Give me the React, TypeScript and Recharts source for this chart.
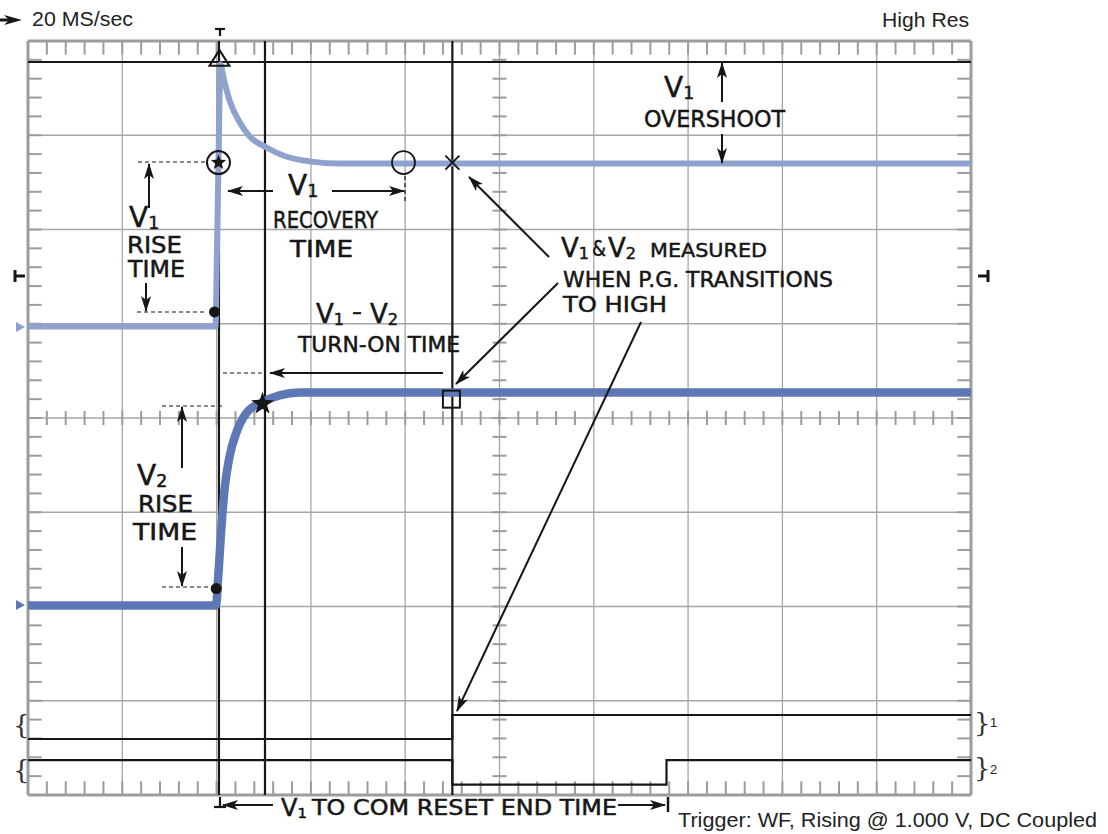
import React from 'react';
import {
  ComposedChart,
  Line,
  Scatter,
  XAxis,
  YAxis,
  CartesianGrid,
  ReferenceLine
} from 'recharts';

// screen is 10 x 8 divisions, values below are in divisions
const MAJOR_X = [0, 1, 2, 3, 4, 5, 6, 7, 8, 9, 10];
const MAJOR_Y = [0, 1, 2, 3, 4, 5, 6, 7, 8];
const MINOR_X = Array.from({ length: 49 }, (_, i) => +((i + 1) * 0.2).toFixed(1));
const MINOR_Y = Array.from({ length: 39 }, (_, i) => +((i + 1) * 0.2).toFixed(1));

// V1 (light trace)
const V1_T = [0, 1.988, 2.004, 2.02, 2.041, 2.073, 2.137, 2.243, 2.349, 2.529, 2.72, 3.006, 3.303, 10];
const V1_V = [4.97, 4.97, 5.78, 6.71, 7.75, 7.61, 7.37, 7.14, 6.99, 6.87, 6.78, 6.72, 6.7, 6.7];

// V2 (dark trace)
const V2_T = [0, 1.99, 2.003, 2.013, 2.049, 2.084, 2.137, 2.208, 2.314, 2.49, 2.667, 2.879, 10];
const V2_V = [2.01, 2.01, 2.08, 2.25, 2.81, 3.24, 3.59, 3.84, 4.05, 4.17, 4.24, 4.27, 4.27];

// digital channels 1 and 2
const CH1_T = [0, 4.5, 10];
const CH1_V = [0.594, 0.849, 0.849];
const CH2_T = [0, 4.5, 6.771, 10];
const CH2_V = [0.371, 0.111, 0.371, 0.371];

// cursors
const CURSOR_X = [2.025, 2.513, 4.5];
const CURSOR_Y = [7.777];

// measurement markers
const MARK_T = [2.03, 2.02, 1.978, 3.982, 4.5, 4.49, 2.487, 1.996];
const MARK_V = [7.8, 6.71, 5.125, 6.71, 6.71, 4.2, 4.15, 2.19];
const MARK_KIND = ['triangle', 'circleStar', 'dot', 'circle', 'cross', 'square', 'star', 'dot'];

const toPoints = (t: number[], v: number[]) => t.map((x, i) => ({ x, y: v[i] }));
const v1Data = toPoints(V1_T, V1_V);
const v2Data = toPoints(V2_T, V2_V);
const ch1Data = toPoints(CH1_T, CH1_V);
const ch2Data = toPoints(CH2_T, CH2_V);
const markData = MARK_T.map((x, i) => ({ x, y: MARK_V[i], kind: MARK_KIND[i] }));

const W = 1108;
const H = 834;
const GRAY = '#9c9c9c';
const INK = '#161616';
const TICK = 0.145;
const MID_TICK = 0.074;
const SANS = '"Liberation Sans", Arial, sans-serif';
const HAND = '"DejaVu Sans", sans-serif';
const SERIF = '"DejaVu Serif", serif';

const starPath = (cx: number, cy: number, ro: number, ri: number) => {
  const pts: string[] = [];
  for (let i = 0; i < 10; i++) {
    const r = i % 2 === 0 ? ro : ri;
    const a = -Math.PI / 2 + (i * Math.PI) / 5;
    pts.push(`${cx + r * Math.cos(a)},${cy + r * Math.sin(a)}`);
  }
  return pts.join(' ');
};

const Marker = (props: any) => {
  const { cx, cy, payload } = props;
  switch (payload.kind) {
    case 'triangle':
      return (
        <polygon
          points={`${cx},${cy - 10} ${cx - 10},${cy + 6} ${cx + 10},${cy + 6}`}
          fill="none"
          stroke={INK}
          strokeWidth={2}
        />
      );
    case 'circleStar':
      return (
        <g>
          <circle cx={cx} cy={cy} r={11.5} fill="none" stroke={INK} strokeWidth={2} />
          <polygon points={starPath(cx, cy, 8, 3.4)} fill={INK} />
        </g>
      );
    case 'dot':
      return <circle cx={cx} cy={cy} r={5.5} fill={INK} />;
    case 'circle':
      return <circle cx={cx} cy={cy} r={11.5} fill="none" stroke={INK} strokeWidth={1.8} />;
    case 'cross':
      return (
        <g stroke={INK} strokeWidth={1.8}>
          <line x1={cx - 7} y1={cy - 7} x2={cx + 7} y2={cy + 7} />
          <line x1={cx - 7} y1={cy + 7} x2={cx + 7} y2={cy - 7} />
        </g>
      );
    case 'square':
      return <rect x={cx - 8.5} y={cy - 8.5} width={17} height={17} fill="none" stroke={INK} strokeWidth={2} />;
    case 'star':
      return <polygon points={starPath(cx, cy, 12, 4.8)} fill={INK} />;
    default:
      return <g />;
  }
};

// marker-pen style lettering
const Hand = ({ x, y, w, size = 23, children }: any) => (
  <text
    x={x}
    y={y}
    fontFamily={HAND}
    fontSize={size}
    fill={INK}
    stroke={INK}
    strokeWidth={0.5}
    textLength={w}
    lengthAdjust="spacingAndGlyphs"
  >
    {children}
  </text>
);

const VSub = ({ x, y, n, size = 28 }: any) => (
  <text x={x} y={y} fontFamily={HAND} fontSize={size} fill={INK} stroke={INK} strokeWidth={0.5}>
    <tspan>V</tspan>
    <tspan fontSize={size * 0.62} dy={2}>{n}</tspan>
  </text>
);

const Arrow = ({ x1, y1, x2, y2 }: any) => (
  <line x1={x1} y1={y1} x2={x2} y2={y2} stroke={INK} strokeWidth={2} markerEnd="url(#head)" />
);

const Dash = ({ x1, y1, x2, y2 }: any) => (
  <line x1={x1} y1={y1} x2={x2} y2={y2} stroke={INK} strokeWidth={1.2} strokeDasharray="4 3" />
);

const Notes = () => (
  <svg width={W} height={H} style={{ position: 'absolute', left: 0, top: 0, pointerEvents: 'none' }}>
    <defs>
      <marker id="head" viewBox="0 0 16 10" refX="15" refY="5" markerWidth="16" markerHeight="10" markerUnits="userSpaceOnUse" orient="auto">
        <path d="M0,0 L16,5 L0,10 L4,5 z" fill={INK} />
      </marker>
    </defs>

    {/* header / footer */}
    <line x1={0} y1={20} x2={10} y2={20} stroke={INK} strokeWidth={3} />
    <polygon points="4,15 22,20 4,25 9,20" fill={INK} />
    <text x={32} y={26} fontFamily={SANS} fontSize={21} fill="#222" textLength={101} lengthAdjust="spacingAndGlyphs">20 MS/sec</text>
    <text x={882} y={27} fontFamily={SANS} fontSize={21} fill="#222" textLength={87} lengthAdjust="spacingAndGlyphs">High Res</text>
    <text x={678} y={827} fontFamily={SANS} fontSize={20} fill="#222" textLength={419} lengthAdjust="spacingAndGlyphs">
      Trigger: WF, Rising @ 1.000 V, DC Coupled
    </text>

    {/* trigger position and level */}
    <g stroke={INK} strokeWidth={2.2}>
      <line x1={215} y1={29} x2={225} y2={29} />
      <line x1={220} y1={29} x2={220} y2={36} />
      <line x1={214} y1={807} x2={226} y2={807} />
      <line x1={220} y1={797} x2={220} y2={807} />
      <line x1={15} y1={270} x2={15} y2={282} strokeWidth={3} />
      <line x1={15} y1={276} x2={25} y2={276} strokeWidth={3} />
      <line x1={988} y1={270} x2={988} y2={282} strokeWidth={3} />
      <line x1={978} y1={276} x2={988} y2={276} strokeWidth={3} />
    </g>
    <polygon points="16,322 25,327 16,332" fill="#8da2cd" />
    <polygon points="16,600 25,605 16,610" fill="#5e78b6" />

    {/* channel braces */}
    <text x={13} y={734} fontFamily={SERIF} fontSize={26} fill="#333">{'{'}</text>
    <text x={13} y={779} fontFamily={SERIF} fontSize={26} fill="#333">{'{'}</text>
    <text x={974} y={732} fontFamily={SERIF} fontSize={26} fill="#333">{'}'}</text>
    <text x={974} y={777} fontFamily={SERIF} fontSize={26} fill="#333">{'}'}</text>
    <text x={990} y={727} fontFamily={SANS} fontSize={13} fill="#222">1</text>
    <text x={990} y={774} fontFamily={SANS} fontSize={13} fill="#222">2</text>

    {/* V1 overshoot */}
    <VSub x={664} y={97} n="1" />
    <Arrow x1={722} y1={102} x2={722} y2={63} />
    <Hand x={644} y={127} w={141}>OVERSHOOT</Hand>
    <Arrow x1={722} y1={134} x2={722} y2={163} />

    {/* V1 recovery */}
    <Arrow x1={273} y1={191} x2={228} y2={191} />
    <VSub x={288} y={195} n="1" />
    <Arrow x1={332} y1={191} x2={404} y2={191} />
    <Dash x1={405} y1={176} x2={405} y2={204} />
    <Hand x={273} y={228} w={105}>RECOVERY</Hand>
    <Hand x={290} y={257} w={63}>TIME</Hand>

    {/* V1 rise */}
    <Dash x1={138} y1={162} x2={207} y2={162} />
    <Arrow x1={149} y1={208} x2={149} y2={164} />
    <VSub x={129} y={227} n="1" />
    <Hand x={127} y={253} w={55}>RISE</Hand>
    <Hand x={128} y={277} w={57}>TIME</Hand>
    <Arrow x1={146} y1={283} x2={146} y2={311} />
    <Dash x1={137} y1={312} x2={205} y2={312} />

    {/* turn-on */}
    <VSub x={316} y={323} n="1" size={26} />
    <Hand x={352} y={319} w={10} size={22}>-</Hand>
    <VSub x={370} y={323} n="2" size={26} />
    <Hand x={298} y={352} w={162} size={21}>TURN-ON TIME</Hand>
    <Arrow x1={443} y1={373} x2={270} y2={373} />
    <Dash x1={223} y1={373} x2={263} y2={373} />

    {/* V2 rise */}
    <Dash x1={162} y1={406} x2={223} y2={406} />
    <Arrow x1={182} y1={468} x2={182} y2={407} />
    <VSub x={137} y={485} n="2" />
    <Hand x={138} y={512} w={55}>RISE</Hand>
    <Hand x={133} y={540} w={64}>TIME</Hand>
    <Arrow x1={182} y1={547} x2={182} y2={586} />
    <Dash x1={162} y1={587} x2={212} y2={587} />

    {/* measured when P.G. high */}
    <VSub x={561} y={257} n="1" size={26} />
    <Hand x={592} y={256} w={14} size={22}>&amp;</Hand>
    <VSub x={608} y={257} n="2" size={26} />
    <Hand x={650} y={257} w={117} size={20}>MEASURED</Hand>
    <Hand x={563} y={287} w={270} size={22}>WHEN P.G. TRANSITIONS</Hand>
    <Hand x={563} y={312} w={104} size={22}>TO HIGH</Hand>
    <Arrow x1={549} y1={257} x2={469} y2={177} />
    <Arrow x1={558} y1={283} x2={456} y2={384} />
    <Arrow x1={641} y1={322} x2={457} y2={711} />

    {/* COM reset */}
    <Arrow x1={273} y1={805} x2={223} y2={805} />
    <VSub x={281} y={816} n="1" size={24} />
    <Hand x={312} y={815} w={305} size={21}>TO COM RESET END TIME</Hand>
    <Arrow x1={618} y1={805} x2={665} y2={805} />
    <line x1={668} y1={797} x2={668} y2={812} stroke={INK} strokeWidth={2.5} />
  </svg>
);

export default function App() {
  return (
    <div style={{ position: 'absolute', left: 0, top: 0, width: W, height: H, background: '#fff' }}>
      <ComposedChart width={W} height={H} margin={{ top: 41, right: 137, bottom: 39, left: 28 }}>
        <XAxis dataKey="x" type="number" domain={[0, 10]} ticks={MAJOR_X} allowDataOverflow hide />
        <YAxis type="number" domain={[0, 8]} ticks={MAJOR_Y} allowDataOverflow hide />
        <CartesianGrid stroke="#a6a6a6" strokeWidth={1.3} />

        {MINOR_X.map(t => (
          <ReferenceLine key={`t${t}`} segment={[{ x: t, y: 8 }, { x: t, y: 8 - TICK }]} stroke={GRAY} strokeWidth={2} />
        ))}
        {MINOR_X.map(t => (
          <ReferenceLine key={`b${t}`} segment={[{ x: t, y: 0 }, { x: t, y: TICK }]} stroke={GRAY} strokeWidth={2} />
        ))}
        {MINOR_X.map(t => (
          <ReferenceLine key={`cx${t}`} segment={[{ x: t, y: 4 - MID_TICK }, { x: t, y: 4 + MID_TICK }]} stroke={GRAY} strokeWidth={2} />
        ))}
        {MINOR_Y.map(t => (
          <ReferenceLine key={`l${t}`} segment={[{ x: 0, y: t }, { x: TICK, y: t }]} stroke={GRAY} strokeWidth={2} />
        ))}
        {MINOR_Y.map(t => (
          <ReferenceLine key={`r${t}`} segment={[{ x: 10, y: t }, { x: 10 - TICK, y: t }]} stroke={GRAY} strokeWidth={2} />
        ))}
        {MINOR_Y.map(t => (
          <ReferenceLine key={`cy${t}`} segment={[{ x: 5 - MID_TICK, y: t }, { x: 5 + MID_TICK, y: t }]} stroke={GRAY} strokeWidth={2} />
        ))}

        <ReferenceLine x={0} stroke={GRAY} strokeWidth={3} />
        <ReferenceLine x={10} stroke={GRAY} strokeWidth={3} />
        <ReferenceLine y={0} stroke={GRAY} strokeWidth={3} />
        <ReferenceLine y={8} stroke={GRAY} strokeWidth={3} />

        {CURSOR_X.map(c => (
          <ReferenceLine key={`cur${c}`} x={c} stroke={INK} strokeWidth={2.2} />
        ))}
        {CURSOR_Y.map(c => (
          <ReferenceLine key={`cury${c}`} y={c} stroke={INK} strokeWidth={2.2} />
        ))}

        <Line data={ch1Data} dataKey="y" type="stepAfter" stroke={INK} strokeWidth={2.2} dot={false} isAnimationActive={false} />
        <Line data={ch2Data} dataKey="y" type="stepAfter" stroke={INK} strokeWidth={2.2} dot={false} isAnimationActive={false} />
        <Line data={v1Data} dataKey="y" type="monotone" stroke="#8da2cd" strokeWidth={6} strokeLinejoin="round" dot={false} isAnimationActive={false} />
        <Line data={v2Data} dataKey="y" type="monotone" stroke="#5e78b6" strokeWidth={8.5} strokeLinejoin="round" dot={false} isAnimationActive={false} />
        <Scatter data={markData} dataKey="y" shape={Marker} isAnimationActive={false} />
      </ComposedChart>
      <Notes />
    </div>
  );
}
